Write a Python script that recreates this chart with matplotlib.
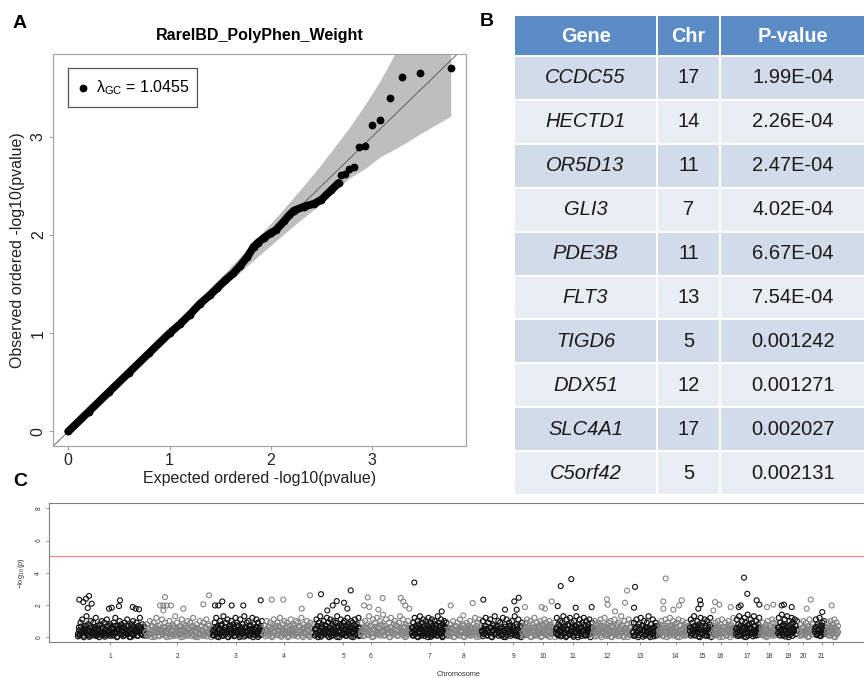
import numpy as np
import matplotlib
matplotlib.use('Agg')
import matplotlib.pyplot as plt
from matplotlib.patches import Rectangle

plt.rcParams['font.family'] = ['Liberation Sans', 'DejaVu Sans']
plt.rcParams['mathtext.fontset'] = 'custom'
plt.rcParams['mathtext.rm'] = 'Liberation Sans'
plt.rcParams['mathtext.it'] = 'Liberation Sans:italic'
plt.rcParams['mathtext.bf'] = 'Liberation Sans:bold'

# ---------------- Panel A : QQ plot ----------------
qq_title = 'RareIBD_PolyPhen_Weight'
lambda_gc = 1.0455
tail_expected = [3.778, 3.477, 3.301, 3.176, 3.079, 3.000, 2.932, 2.875, 2.824, 2.778, 2.736, 2.699]
tail_observed = [3.701, 3.646, 3.607, 3.396, 3.176, 3.123, 2.906, 2.896, 2.693, 2.671, 2.62, 2.61]
body_expected = [0.0, 0.2, 0.4, 0.6, 0.8, 1.0, 1.1, 1.2, 1.3, 1.4, 1.47, 1.55, 1.63, 1.7, 1.77,
                 1.83, 1.87, 1.93, 2.0, 2.05, 2.13, 2.18, 2.23, 2.33, 2.43, 2.5, 2.6, 2.67]
body_observed = [0.0, 0.2, 0.4, 0.6, 0.8, 1.0, 1.09, 1.19, 1.3, 1.39, 1.46, 1.54, 1.61, 1.69, 1.78,
                 1.88, 1.92, 1.97, 2.02, 2.05, 2.14, 2.2, 2.25, 2.29, 2.32, 2.36, 2.46, 2.53]
band_expected = [0.0, 0.778, 1.079, 1.301, 1.477, 1.778, 2.079, 2.301, 2.477, 2.778, 2.932, 3.079, 3.301, 3.477, 3.778]
band_upper = [0.0, 0.806, 1.118, 1.352, 1.540, 1.867, 2.209, 2.473, 2.691, 3.097, 3.329, 3.568, 3.986, 4.394, 5.375]
band_lower = [0.0, 0.752, 1.042, 1.253, 1.419, 1.697, 1.966, 2.158, 2.305, 2.582, 2.678, 2.795, 2.919, 3.032, 3.211]
qq_ticks = [0, 1, 2, 3]

# ---------------- Panel B : table ----------------
table_header = ['Gene', 'Chr', 'P-value']
genes = ['CCDC55', 'HECTD1', 'OR5D13', 'GLI3', 'PDE3B', 'FLT3', 'TIGD6', 'DDX51', 'SLC4A1', 'C5orf42']
chroms = ['17', '14', '11', '7', '11', '13', '5', '12', '17', '5']
pvalues = ['1.99E-04', '2.26E-04', '2.47E-04', '4.02E-04', '6.67E-04', '7.54E-04',
           '0.001242', '0.001271', '0.002027', '0.002131']

# ---------------- Panel C : Manhattan plot ----------------
chrom_start = [78, 146, 213, 264, 315, 361, 412, 448, 482, 523, 556, 593, 633, 659, 690, 713, 736, 761, 778, 800, 815, 827]
chrom_end = [145, 211, 262, 313, 360, 410, 447, 481, 522, 555, 592, 632, 658, 688, 712, 735, 760, 777, 797, 813, 825, 838]
chrom_tick = [110.3, 177.3, 235.7, 284, 343.3, 370.7, 429.7, 463.7, 513.3, 542.7, 572.7, 606.7, 640,
              675.7, 702.7, 720.7, 746.7, 769.3, 787.7, 803.3, 821.7, 833.3]
chrom_tick_labels = [str(i) for i in range(1, 22)] + ['']
threshold = 5.07

chr1_vals = [.2, .6, .1, .9, .4, 1.1, .3, .0, .7, .5, 1.3, .2, .8, .1, .4, 1.0, .6, .3, .9, .2,
             .5, 1.2, .1, .7, .4, .0, .8, .3, 1.0, .6, .2, .9, .5, .1, 1.1, .3, .7, .4, .8, .2,
             .6, .1, .9, .3, 1.2, .5, .0, .7, .4, 1.0, .2, .8, .3, .6, .1, .9, .5, .2, 1.1, .4,
             .7, .3, .0, .8, .5, 1.0, .2, .6, .4, .9, .1, .7, .3, 1.2, .5, .2, .8, .4, .6, .1]
chr2_vals = [.3, .8, .1, .5, 1.0, .2, .7, .4, .9, .0, .6, 1.2, .3, .5, .1, .8, .4, 1.1, .2, .6,
             .9, .3, .0, .7, .5, 1.0, .2, .4, .8, .1, .6, 1.3, .3, .9, .5, .2, .7, .0, 1.1, .4,
             .8, .3, .6, .1, 1.0, .5, .2, .9, .4, .7, 1.2, .1, .6, .3, .8, .0, .5, 1.0, .2, .7,
             .4, .9, .1, .6, 1.1, .3, .8, .2, .5, .0]
chr3_vals = [.4, .1, .9, .6, 1.2, .2, .7, .0, .5, 1.0, .3, .8, .1, 1.3, .6, .2, .9, .4, 1.1, .0,
             .7, .3, .5, 1.0, .2, .8, .6, .1, 1.2, .4, .9, .3, .7, .0, 1.1, .5, .2, .8, .4, 1.3,
             .6, .1, .9, .3, 1.0, .5, .2, .7, .4, 1.2, .0, .8, .3, .6, 1.1, .2, .9, .5, .1, .7,
             .4, 1.0]
chr4_vals = [.2, .7, .4, 1.0, .1, .6, .3, .9, .5, .0, .8, 1.1, .3, .6, .2, .9, .4, .7, 1.2, .1,
             .5, .8, .3, 1.0, .6, .2, .9, .0, .4, .7, 1.1, .3, .5, .8, .1, .6, 1.0, .2, .9, .4,
             .7, .3, 1.2, .5, .0, .8, .6, .2, 1.0, .4, .7, .1, .9, .3, .5, .8]
chr5_vals = [.5, .2, 1.1, .7, .0, .9, .3, 1.3, .6, .1, .8, .4, 1.0, .2, .7, .5, 1.2, .3, .9, .0,
             .6, 1.1, .4, .8, .1, 1.0, .5, .3, .9, .2, 1.3, .7, .4, .0, .8, 1.1, .6, .2, .9, .3,
             1.0, .5, .1, .7, 1.2, .4, .8, .2, .6, 1.0, .3, .9, .0, .5, 1.1, .7, .2, .8, .4, 1.2,
             .6, .1]
chr6_vals = [.3, .9, .5, .1, 1.0, .6, .2, .8, 1.3, .4, .7, .0, 1.1, .5, .9, .3, 1.2, .6, .2, 1.0,
             .8, .4, 1.4, .1, .7, 1.1, .5, .3, .9, .0, 1.2, .6, .2, .8, 1.0, .4, .7, .1, .9, 1.3,
             .5, .3, 1.1, .6, .0, .8, .2, 1.0, .4, .7]
chr7_vals = [.6, .1, .9, .4, 1.2, .2, .7, .5, 1.0, .0, .8, .3, 1.3, .6, .1, .9, .4, 1.1, .2, .7,
             .5, 1.0, .3, .8, .0, 1.2, .6, .4, .9, .1, 1.1, .7, .2, .5, 1.0, .3, .8, .6, .1, 1.3,
             .4, .9, .2, .7, 1.1, .5, .0, .8, .3, 1.0, .6, .2, .9, .4]
chr8_vals = [.2, .5, .1, .8, .3, .6, 1.0, .0, .4, .7, .2, .9, .5, .1, 1.1, .3, .6, .4, .8, .0,
             .5, .2, .9, .3, .7, .1, 1.0, .4, .6, .2, .8, .3, 1.2, .5, .0, .9, .4, 1.1, .6, .3]
chr9_vals = [.4, 1.0, .2, .7, 1.2, .5, .1, .9, .3, 1.1, .6, .0, .8, .4, 1.3, .2, .7, .5, 1.0, .3,
             .9, .1, .6, 1.2, .4, .8, .0, 1.1, .5, .3, .9, .7, .2, 1.0, .6, .4, 1.3, .1, .8, .5,
             1.1, .3, .7, .0, .9]
chr10_vals = [.3, .7, .1, .9, .5, 1.1, .2, .6, .4, 1.0, .0, .8, .3, .6, 1.2, .1, .5, .9, .2, .7,
              .4, 1.0, .0, .8, .3, .6, 1.1, .2, .9, .5, .1, .7, 1.0, .4, .8, .2, .6, .3, .9, .0]
chr11_vals = [.5, 1.2, .2, .8, .4, 1.0, .1, .9, .6, 1.3, .3, .7, .0, 1.1, .5, .8, .2, 1.2, .4, .9,
              .6, .1, 1.0, .7, .3, 1.3, .5, .0, .8, 1.1, .2, .6, .9, .4, 1.2, .1, .7, 1.0, .3, .8,
              .5, 1.1, .0, .6, .9]
chr12_vals = [.2, .6, 1.0, .3, .8, .1, .5, .9, .4, 1.1, .0, .7, .3, .6, 1.2, .2, .8, .5, .1, .9,
              .4, 1.0, .6, .0, .7, .3, 1.1, .5, .2, .8, .4, .9, .1, .6, 1.3, .3, .7, .0, 1.0, .5,
              .2, .8, .4, 1.1, .6, .1, .9, .3]
chr13_vals = [.3, .9, .1, .6, 1.1, .4, .0, .8, .5, 1.2, .2, .7, .4, 1.0, .1, .6, .9, .3, 1.3, .5,
              .0, .8, .2, 1.1, .6, .4, .9, .1, .7, .3]
chr14_vals = [.4, .8, .2, 1.0, .5, .1, .7, .3, 1.1, .6, .0, .9, .4, .2, 1.2, .7, .3, .5, 1.0, .1,
              .8, .6, .2, .9, .4, 1.1, .0, .7, .3, .5, 1.0, .2, .8, .6, .1, .9, .4, .7]
chr15_vals = [.6, 1.1, .2, .9, .4, 1.3, .1, .7, .5, 1.0, .3, .8, .0, 1.2, .6, .2, .9, .4, 1.1, .7,
              .1, 1.0, .5, .3, .8, 1.2, .0, .6]
chr16_vals = [.3, .7, .1, .9, .5, .2, 1.0, .6, .0, .8, .4, 1.1, .3, .6, .2, .9, .5, .1, .7, 1.0,
              .4, .0, .8, .3, .6, 1.2, .2, .5]
chr17_vals = [.5, 1.1, .3, .8, 1.3, .1, .7, .4, 1.0, .6, .2, 1.2, .9, .0, .5, 1.4, .3, .8, .6, 1.1,
              .2, .9, .4, 1.3, .7, .1, 1.0, .5, .3, .8, 1.2, .6]
chr18_vals = [.2, .6, .9, .1, .5, .3, .8, .0, 1.0, .4, .7, .2, .6, 1.1, .3, .9, .1, .5, .8, .4]
chr19_vals = [.6, 1.2, .3, .9, .5, 1.4, .1, .8, .4, 1.1, .7, .2, 1.3, .6, .0, 1.0, .4, .8, 1.2, .3,
              .9, .5, 1.1, .2, .7, 1.0]
chr20_vals = [.3, .8, .1, .6, 1.0, .4, .2, .9, .5, .0, .7, 1.1, .3, .6, .2, .8]
chr21_vals = [.5, 1.1, .2, .8, .4, 1.2, .1, .7, .9, .3, 1.0, .6]
chr22_vals = [.4, .9, .1, .7, .3, 1.0, .5, .2, .8, .6, 1.1, .0, .4, .9, .2, .7]

# second (denser, low -log10 p) batch of genes per chromosome
chr1_low = [.05, .42, .18, .66, .27, .09, .51, .33, .71, .14, .38, .02, .57, .23, .46, .11, .63, .30, .07, .48,
            .19, .74, .35, .12, .55, .26, .03, .44, .68, .16, .39, .08, .59, .22, .47, .13, .70, .31, .04, .52,
            .24, .62, .15, .41, .06, .58, .28, .72, .17, .36, .01, .49, .21, .65, .10, .43, .29, .54, .08, .34,
            .61, .20, .45, .12, .67, .25]
chr2_low = [.31, .08, .56, .19, .43, .02, .67, .25, .12, .49, .37, .71, .06, .28, .53, .15, .40, .64, .10, .33,
            .22, .58, .04, .45, .17, .69, .27, .09, .51, .36, .13, .61, .20, .47, .03, .39, .73, .24, .11, .55,
            .30, .07, .62, .18, .44, .01, .35, .57, .14, .26, .66, .09, .41, .21, .52, .05, .32, .70, .16, .48]
chr3_low = [.12, .47, .26, .63, .04, .38, .55, .17, .71, .29, .08, .44, .21, .59, .33, .02, .50, .14, .67, .25,
            .40, .06, .53, .31, .74, .19, .46, .10, .36, .61, .23, .03, .57, .28, .42, .15, .69, .07, .34, .52,
            .20, .48, .11, .64, .27, .01, .39, .58, .16, .45]
chr4_low = [.22, .05, .49, .31, .66, .14, .40, .08, .57, .26, .35, .71, .11, .45, .19, .60, .02, .37, .53, .16,
            .29, .68, .07, .43, .24, .51, .12, .34, .73, .18, .47, .04, .62, .27, .39, .09, .55, .21, .32, .64,
            .13, .44, .01, .58, .25, .36]
chr5_low = [.09, .53, .27, .68, .15, .40, .03, .61, .34, .20, .47, .72, .11, .38, .56, .23, .06, .49, .30, .65,
            .17, .42, .01, .58, .26, .36, .70, .13, .45, .21, .52, .08, .33, .63, .18, .41, .04, .55, .28, .74,
            .12, .46, .24, .59, .07, .37]
chr6_low = [.18, .44, .06, .60, .29, .52, .13, .37, .71, .22, .48, .03, .41, .65, .16, .33, .57, .09, .26, .69,
            .35, .11, .54, .20, .45, .01, .62, .31, .15, .50, .24, .73, .07, .39, .58, .19, .43, .12, .66, .28,
            .05, .47, .34, .56]
chr7_low = [.27, .61, .10, .43, .19, .55, .04, .36, .70, .23, .48, .14, .63, .31, .07, .52, .38, .17, .67, .25,
            .45, .02, .58, .33, .12, .50, .21, .74, .09, .40, .29, .60, .15, .46, .06, .35, .65, .24, .53, .11]
chr8_low = [.14, .39, .07, .58, .26, .45, .02, .33, .66, .19, .51, .11, .42, .28, .71, .05, .36, .55, .17, .48,
            .24, .62, .09, .40, .30, .53, .13, .69, .21, .34, .04, .47]
chr9_low = [.33, .06, .50, .21, .68, .12, .44, .27, .59, .03, .38, .73, .16, .47, .25, .62, .09, .35, .54, .18,
            .41, .01, .65, .29, .13, .52, .37, .70, .08, .45, .22, .57, .15, .31, .66, .05, .43, .26, .60, .11]
chr10_low = [.08, .46, .23, .61, .14, .37, .70, .03, .52, .29, .41, .17, .65, .10, .34, .56, .21, .47, .06, .39,
             .73, .27, .12, .58, .32, .44, .01, .63, .19, .50, .25, .36]
chr11_low = [.24, .57, .11, .42, .69, .05, .35, .51, .18, .64, .29, .08, .46, .72, .15, .38, .60, .22, .02, .53,
             .31, .67, .13, .44, .27, .58, .07, .40, .74, .20, .49, .10, .36, .62, .16, .45, .30, .55]
chr12_low = [.16, .48, .04, .59, .27, .39, .71, .12, .52, .22, .35, .65, .08, .44, .19, .56, .30, .02, .62, .25,
             .41, .14, .68, .33, .06, .50, .21, .74, .37, .10, .46, .28, .57, .01, .40, .18, .63, .31]
chr13_low = [.29, .07, .53, .18, .66, .36, .12, .47, .24, .70, .03, .41, .58, .15, .33, .62, .09, .45, .21, .55,
             .37, .05, .68, .26, .14, .50]
chr14_low = [.11, .44, .26, .61, .05, .38, .53, .19, .70, .32, .08, .47, .23, .64, .15, .36, .57, .02, .42, .28,
             .73, .17, .50, .09, .34, .59, .21, .46]
chr15_low = [.37, .09, .55, .22, .68, .14, .43, .30, .62, .04, .49, .18, .71, .26, .40, .11, .58, .33, .07, .52,
             .20, .65, .28, .45]
chr16_low = [.06, .41, .23, .57, .13, .35, .66, .19, .48, .02, .38, .61, .27, .09, .52, .31, .72, .16, .44, .25,
             .59, .11]
chr17_low = [.21, .58, .07, .46, .33, .69, .14, .40, .52, .03, .63, .26, .37, .74, .10, .49, .18, .56, .30, .05,
             .44, .67, .23, .35, .12, .60, .28, .47]
chr18_low = [.13, .48, .27, .62, .05, .39, .54, .19, .70, .31, .09, .44, .24, .58, .16, .35]
chr19_low = [.26, .63, .10, .45, .34, .71, .17, .52, .04, .40, .58, .22, .67, .13, .47, .30, .08, .55, .37, .73,
             .19, .43]
chr20_low = [.08, .42, .21, .59, .33, .13, .50, .27, .66, .04, .38, .55, .17, .46]
chr21_low = [.31, .65, .12, .47, .24, .70, .06, .39, .56, .18, .43, .28]
chr22_low = [.17, .52, .35, .09, .61, .26, .44, .03, .57, .21, .48, .33]

peak_pos = [79.3, 83.3, 86, 89, 87.7, 91.7, 109, 111.7, 120, 119, 132.7, 135.7, 139,
            165, 160, 163.3, 166.7, 171, 163.3, 183.3, 203.3, 209,
            215, 218.3, 222.3, 231.7, 243.3, 260.7,
            271.7, 283.3, 301.7, 310,
            321, 336.7, 332.7, 327.3, 344, 350.7, 347.3,
            367.7, 364, 369.3, 382.7, 378.3, 400.7, 403.3, 405.3, 409.3,
            414.3, 441.7,
            450.7, 472.7, 463.3,
            483.3, 505, 514.3, 518.7, 516.7,
            525, 541.7, 545, 551.7,
            557.7, 560.7, 571.3, 575.7, 591.7,
            607, 607.7, 615, 625, 627,
            635, 634,
            665.7, 663.3, 663.3, 673.3, 679, 681.7,
            700, 700.7, 698.3,
            713.3, 715, 719.3, 730.7,
            738.7, 740.7, 744, 747.3, 756.7, 759.3,
            767, 773.3,
            781.7, 784, 791.7,
            806.7, 810.7,
            822.3, 831.7]
peak_val = [2.33, 2.18, 2.39, 2.56, 1.81, 2.08, 1.77, 1.83, 2.29, 1.93, 1.87, 1.77, 1.73,
            2.49, 1.97, 1.97, 1.97, 1.97, 1.66, 1.77, 2.04, 2.60,
            1.97, 1.97, 2.22, 1.97, 1.97, 2.29,
            2.33, 2.33, 1.77, 2.60,
            2.671, 2.24, 1.97, 1.66, 2.14, 2.906, 1.77,
            2.47, 1.97, 1.87, 2.43, 1.71, 2.43, 2.22, 1.97, 1.77,
            3.396, 1.60,
            1.97, 2.12, 1.35,
            2.33, 1.71, 2.22, 2.45, 1.71,
            1.87, 1.87, 1.77, 2.22,
            1.93, 3.176, 3.607, 1.83, 1.87,
            2.35, 2.02, 1.60, 2.14, 2.896,
            3.123, 1.83,
            3.646, 2.22, 1.77, 1.71, 1.97, 2.29,
            2.29, 2.04, 1.77,
            1.66, 2.18, 2.02, 1.87,
            1.87, 1.97, 3.701, 2.693, 2.29, 2.02,
            1.87, 2.02,
            1.97, 2.02, 1.87,
            1.77, 2.33,
            1.56, 1.97]

chrom_vals = [chr1_vals, chr2_vals, chr3_vals, chr4_vals, chr5_vals, chr6_vals, chr7_vals, chr8_vals,
              chr9_vals, chr10_vals, chr11_vals, chr12_vals, chr13_vals, chr14_vals, chr15_vals,
              chr16_vals, chr17_vals, chr18_vals, chr19_vals, chr20_vals, chr21_vals, chr22_vals]
chrom_low = [chr1_low, chr2_low, chr3_low, chr4_low, chr5_low, chr6_low, chr7_low, chr8_low,
             chr9_low, chr10_low, chr11_low, chr12_low, chr13_low, chr14_low, chr15_low,
             chr16_low, chr17_low, chr18_low, chr19_low, chr20_low, chr21_low, chr22_low]

# ---------------- figure ----------------
W, H = 864, 678
fig = plt.figure(figsize=(W / 100, H / 100), dpi=100)


def px_rect(l, t, r, b):
    return [l / W, 1 - b / H, (r - l) / W, (b - t) / H]


# Panel A
axA = fig.add_axes(px_rect(53, 53.5, 466, 446))
axA.set_xlim(-0.151, 3.929)
axA.set_ylim(-0.148, 3.849)
axA.fill_between(band_expected, band_lower, band_upper, color='#bebebe', lw=0, zorder=1)
axA.plot([-1, 6], [-1, 6], color='#505050', lw=0.6, zorder=2)
axA.plot(body_expected, body_observed, color='black', lw=5.6, solid_capstyle='round',
         solid_joinstyle='round', zorder=3)
axA.plot(body_expected, body_observed, 'o', color='black', ms=4.6, zorder=3)
axA.plot(tail_expected, tail_observed, 'o', color='black', ms=4.6, zorder=4)
for s in axA.spines.values():
    s.set_color('#a0a0a0')
    s.set_linewidth(0.8)
axA.set_xticks(qq_ticks)
axA.set_yticks(qq_ticks)
axA.tick_params(color='#a0a0a0', length=3.2, width=0.8, labelsize=11.5, labelcolor='#222222', pad=2)
for lab in axA.get_yticklabels():
    lab.set_rotation(90)
    lab.set_va('center')
axA.set_title(qq_title, fontsize=11.5, fontweight='bold', pad=10)
axA.set_xlabel('Expected ordered -log10(pvalue)', fontsize=11.5, labelpad=2, color='#222222')
axA.set_ylabel('Observed ordered -log10(pvalue)', fontsize=11.5, labelpad=4, color='#222222')

# Panel C
axC = fig.add_axes(px_rect(49.3, 503.3, 868, 642.3))
axC.set_xlim(49.3, 868)
axC.set_ylim(-0.32, 8.32)
colors = ['#111111', '#848484']
for k in range(len(chrom_vals)):
    for vals in (chrom_low[k], chrom_vals[k]):
        xs = np.linspace(chrom_start[k], chrom_end[k], len(vals))
        axC.scatter(xs, vals, s=13, facecolors='none', edgecolors=colors[k % 2],
                    linewidths=0.85, zorder=2)
peak_cols = []
for x in peak_pos:
    idx = 0
    for k in range(len(chrom_start)):
        if x >= chrom_start[k] - 1:
            idx = k
    peak_cols.append(colors[idx % 2])
axC.scatter(peak_pos, peak_val, s=13, facecolors='none', edgecolors=peak_cols, linewidths=0.8, zorder=3)
axC.axhline(threshold, color='#f08a8a', lw=0.9, zorder=1)
for s in axC.spines.values():
    s.set_color('#808080')
    s.set_linewidth(0.8)
axC.set_xticks(chrom_tick)
axC.set_xticklabels(chrom_tick_labels)
axC.set_yticks([0, 2, 4, 6, 8])
axC.tick_params(axis='x', color='#808080', length=2.5, width=0.6, labelsize=4.8, labelcolor='#333333', pad=5)
axC.tick_params(axis='y', color='#808080', length=2.5, width=0.6, labelsize=4.8, labelcolor='#333333', pad=2.5)
for lab in axC.get_yticklabels():
    lab.set_rotation(90)
    lab.set_va('center')
axC.set_xlabel('Chromosome', fontsize=5.3, labelpad=8, color='#333333')
axC.set_ylabel(r'$-\log_{10}(p)$', fontsize=5.3, labelpad=6, color='#333333')

# Overlay: panel letters, legend box, table
ov = fig.add_axes([0, 0, 1, 1], zorder=10)
ov.set_xlim(0, W)
ov.set_ylim(H, 0)
ov.axis('off')
ov.patch.set_alpha(0)

ov.text(20, 24, 'A', fontsize=14, fontweight='bold', ha='center', va='center')
ov.text(487, 21, 'B', fontsize=14, fontweight='bold', ha='center', va='center')
ov.text(20, 482, 'C', fontsize=14, fontweight='bold', ha='center', va='center')

# legend of panel A
ov.add_patch(Rectangle((68, 68), 129, 39, fill=False, ec='#555555', lw=0.9))
ov.plot([83], [87.5], 'o', color='black', ms=4.6)
ov.text(96, 87.5, 'λ$_{\\mathrm{GC}}$ = %.4f' % lambda_gc, fontsize=11.5, va='center', ha='left')

# table
col_edges = [514, 657, 720, 866]
head_top, head_bot = 16, 56
row_h = (495 - 56) / len(genes)
head_col = '#5b8cc6'
band_cols = ['#d2dbea', '#e9edf4']
for c in range(3):
    x0, x1 = col_edges[c], col_edges[c + 1]
    ov.add_patch(Rectangle((x0 + 1, head_top), x1 - x0 - 2, head_bot - head_top - 1.5,
                           fc=head_col, ec='none'))
    ov.text((x0 + x1) / 2, (head_top + head_bot) / 2, table_header[c], color='white',
            fontsize=14.3, fontweight='bold', ha='center', va='center')
for r in range(len(genes)):
    y0 = head_bot + r * row_h
    texts = [genes[r], chroms[r], pvalues[r]]
    for c in range(3):
        x0, x1 = col_edges[c], col_edges[c + 1]
        ov.add_patch(Rectangle((x0 + 1, y0 + 1), x1 - x0 - 2, row_h - 2,
                               fc=band_cols[r % 2], ec='none'))
        ov.text((x0 + x1) / 2, y0 + row_h / 2, texts[c], color='#1a1a1a', fontsize=14.5,
                ha='center', va='center', style='italic' if c == 0 else 'normal')

fig.savefig('out.png', dpi=100)
